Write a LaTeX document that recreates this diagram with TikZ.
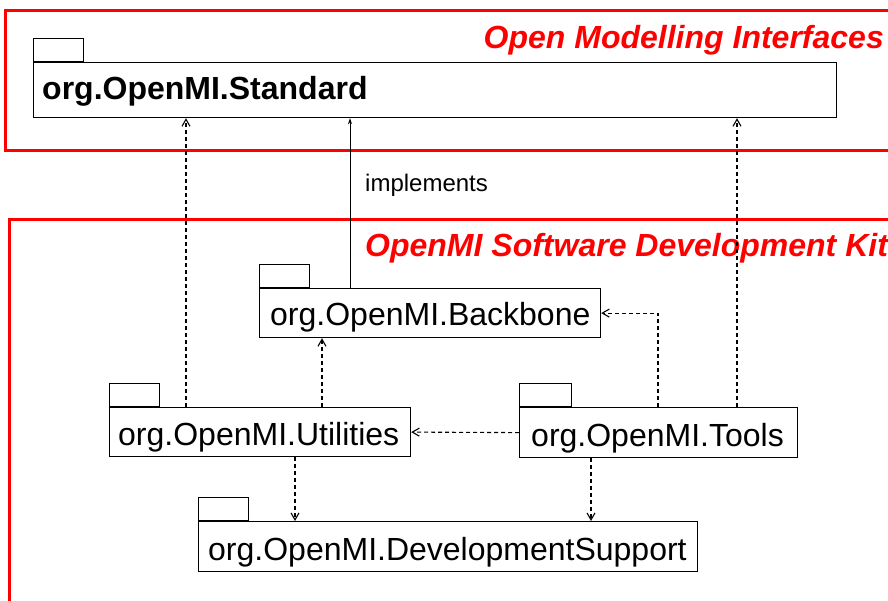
\documentclass[tikz,border=0pt]{standalone}
\usepackage{fontspec}
\setmainfont{Liberation Sans}
\usetikzlibrary{arrows.meta}
\definecolor{redline}{RGB}{255,0,0}
\begin{document}
\begin{tikzpicture}[x=1pt,y=-1pt,
  frame/.style={draw=redline, line width=3pt},
  title/.style={text=redline, font=\fontsize{32}{38}\selectfont\bfseries\itshape, inner sep=0pt},
  pkgbox/.style={draw, line width=1.2pt, fill=white, inner sep=0pt, anchor=north west},
  pkgtab/.style={draw, line width=1.2pt, fill=white, inner sep=0pt, anchor=south west, minimum width=50pt, minimum height=23pt},
  pkgname/.style={font=\fontsize{32}{38}\selectfont, inner sep=0pt, anchor=base west},
  dep/.style={draw, line width=1.1pt, dash pattern=on 4pt off 3pt, -{Straight Barb[length=7pt,width=8pt]}},
  impl/.style={draw, line width=1pt, -{Stealth[length=6pt,width=4pt]}},
  lbl/.style={font=\fontsize{24}{28}\selectfont, inner sep=0pt, anchor=base west},
]
\useasboundingbox (0,0) rectangle (888,601);
\draw[frame] (5,11) rectangle (900,151);
\draw[frame] (9,220) rectangle (900,620);
\node[title, anchor=base east] (t1) at (884,49) {Open Modelling Interfaces};
\node[title, anchor=base west] (t2) at (365,257) {OpenMI Software Development Kit};

\node[pkgbox, minimum width=803pt, minimum height=55pt] (std) at (33,62) {};
\node[pkgtab] (stdtab) at (std.north west) {};
\node[pkgname, font=\fontsize{32}{38}\selectfont\bfseries] (stdname) at (42,100) {org.OpenMI.Standard};

\node[pkgbox, minimum width=341pt, minimum height=49pt] (bb) at (259,288) {};
\node[pkgtab] (bbtab) at (bb.north west) {};
\node[pkgname] (bbname) at (270,325.5) {org.OpenMI.Backbone};

\node[pkgbox, minimum width=301pt, minimum height=49pt] (util) at (109,407) {};
\node[pkgtab] (utiltab) at (util.north west) {};
\node[pkgname] (utilname) at (118,445.5) {org.OpenMI.Utilities};

\node[pkgbox, minimum width=278pt, minimum height=50pt] (tools) at (519,407) {};
\node[pkgtab, minimum width=52pt] (toolstab) at (tools.north west) {};
\node[pkgname] (toolsname) at (531,446) {org.OpenMI.Tools};

\node[pkgbox, minimum width=499pt, minimum height=50pt] (dev) at (198,521) {};
\node[pkgtab] (devtab) at (dev.north west) {};
\node[pkgname] (devname) at (208,560) {org.OpenMI.DevelopmentSupport};

\draw[dep] ([xshift=77pt]util.north west) -- ([xshift=153pt]std.south west);
\draw[impl] ([xshift=91pt]bb.north west) -- ([xshift=317pt]std.south west);
\node[lbl] (impllbl) at (365,192) {implements};
\draw[dep] ([xshift=218pt]tools.north west) -- ([xshift=704pt]std.south west);
\draw[dep] ([xshift=213pt]util.north west) -- ([xshift=63pt]bb.south west);
\draw[dep] ([xshift=139pt]tools.north west) |- (bb.east);
\draw[dep] (tools.west) -- (util.east);
\draw[dep] ([xshift=186pt]util.south west) -- ([xshift=97pt]dev.north west);
\draw[dep] ([xshift=72pt]tools.south west) -- ([xshift=393pt]dev.north west);
\end{tikzpicture}
\end{document}
